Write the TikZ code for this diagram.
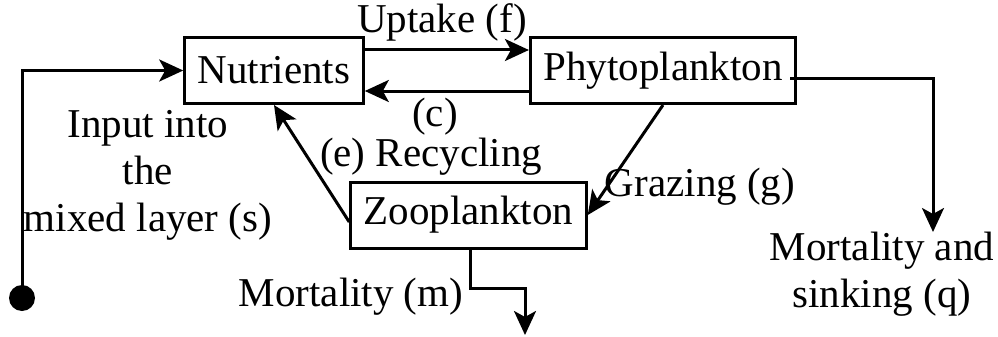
\documentclass[tikz,border=0pt]{standalone}
\usepackage{fontspec}
\setmainfont{Liberation Serif}
\usetikzlibrary{shapes, arrows.meta, positioning}

\begin{document}
\begin{tikzpicture}[x=1pt, y=-1pt, node distance=389pt]
    \tikzstyle{box} = [rectangle, draw, line width=3pt, text centered, minimum height=66pt, inner xsep=13pt, font=\fontsize{41}{47}\selectfont]
    \tikzstyle{txt} = [align=center, inner sep=0pt, font=\fontsize{41}{47}\selectfont]
    \tikzstyle{arrow} = [line width=3pt, ->, >={Stealth[length=24pt, width=22pt, inset=6pt]}]

    \useasboundingbox (0,0) rectangle (998,337);

    \node (nut) [box] at (274,70.5) {Nutrients};
    \node (phy) [box, right of=nut] {Phytoplankton};
    \node (zoo) [box, below of=nut, node distance=144.5pt, xshift=194.5pt] {Zooplankton};

    % Labels
    \node (uptake) [txt] at (442,22) {Uptake (f)};
    \node (clab) [txt] at (435,117) {(c)};
    \node (recyc) [txt] at (431,157) {(e) Recycling};
    \node (graz) [txt] at (700,187) {Grazing (g)};
    \node (input) [txt] at (148,175) {Input into\\the\\mixed layer (s)};
    \node (mort) [txt] at (351,297) {Mortality (m)};
    \node (sinking) [txt] at (882,274) {Mortality and\\sinking (q)};

    \coordinate (src) at (22,298);
    \coordinate (sink) at (933,232);
    \coordinate (bend) at (525,288);
    \coordinate (dead) at (525,335);

    % Arrows
    \fill (src) circle (13pt);
    \draw [arrow] (src) |- (nut.west);
    \draw [arrow] ([yshift=20.5pt]nut.east) -- ([yshift=20.5pt]phy.west);
    \draw [arrow] ([yshift=-20.5pt]phy.west) -- ([yshift=-20.5pt]nut.east);
    \draw [arrow] ([yshift=-7pt]zoo.west) -- (nut.south);
    \draw [arrow] (phy.south) -- (zoo.east);
    \draw [arrow] ([xshift=-7pt,yshift=-8pt]phy.east) -| (sink);
    \draw [arrow] ([xshift=1.5pt]zoo.south) |- (bend) -- (dead);
\end{tikzpicture}
\end{document}
